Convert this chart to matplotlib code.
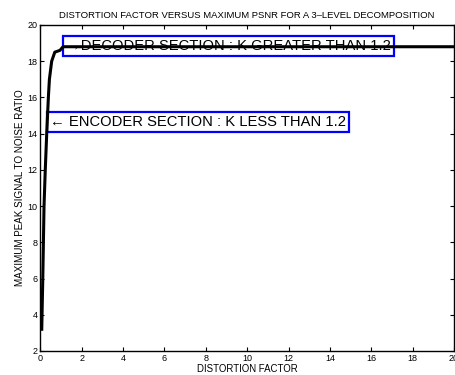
import matplotlib
matplotlib.use("Agg")
import matplotlib.pyplot as plt

plt.rcParams['font.family'] = ['Liberation Sans', 'DejaVu Sans']

# Data
distortion = [0.07, 0.12, 0.15, 0.18, 0.24, 0.31, 0.39, 0.44, 0.55, 0.70, 0.95, 1.10, 20.0]
psnr = [3.2, 6.0, 8.0, 10.0, 12.0, 14.0, 16.0, 17.0, 18.0, 18.5, 18.6, 18.8, 18.8]

xticks = list(range(0, 21, 2))
yticks = list(range(2, 21, 2))

title = "DISTORTION FACTOR VERSUS MAXIMUM PSNR FOR A 3\u2013LEVEL DECOMPOSITION"
xlabel = "DISTORTION FACTOR"
ylabel = "MAXIMUM PEAK SIGNAL TO NOISE RATIO"
enc_text = "\u2190 ENCODER SECTION : K LESS THAN 1.2"
dec_text = "\u2192DECODER SECTION : K GREATER THAN 1.2"

fig = plt.figure(figsize=(4.56, 3.75), dpi=100)
ax = fig.add_axes([40.3 / 456, 24 / 375, (454 - 40.3) / 456, (351 - 25) / 375])

ax.plot(distortion, psnr, color='black', lw=2.2, zorder=3)

ax.set_xlim(0, 20)
ax.set_ylim(2, 20)
ax.set_xticks(xticks)
ax.set_yticks(yticks)
ax.tick_params(direction='in', top=True, right=True, labelsize=6.5, length=3, pad=2)
for s in ax.spines.values():
    s.set_linewidth(1.0)

ax.set_title(title, fontsize=6.8, pad=5)
ax.set_xlabel(xlabel, fontsize=6.9, labelpad=1)
ax.set_ylabel(ylabel, fontsize=7.1, labelpad=2)

box = dict(boxstyle='square,pad=0.2', fc='none', ec=(0, 0, 1), lw=1.6)
ax.text(0.45, 14.64, enc_text, fontsize=10.6, va='center', ha='left', bbox=box, zorder=2)
ax.text(1.25, 18.84, dec_text, fontsize=10.6, va='center', ha='left', bbox=box, zorder=2)

fig.savefig("out.png", dpi=100)
